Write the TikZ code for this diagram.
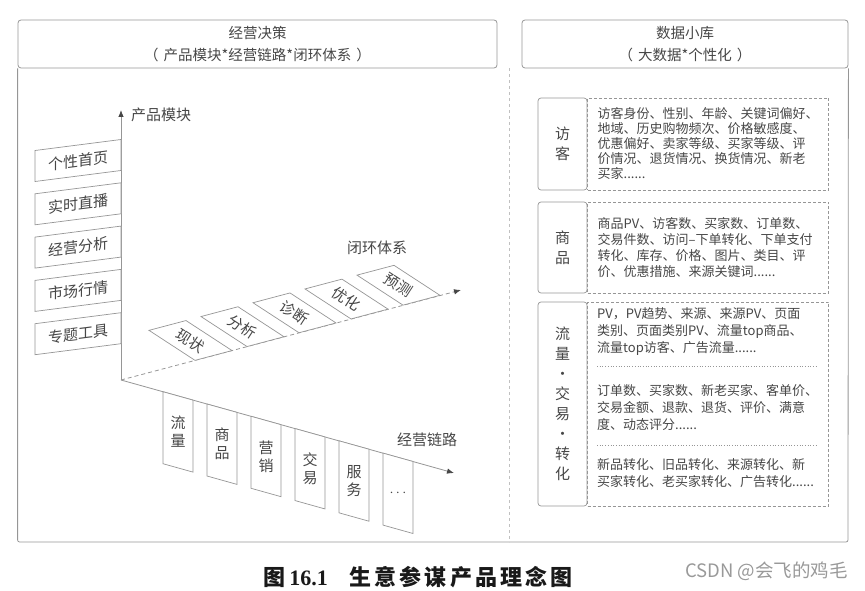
\documentclass[tikz,border=0pt]{standalone}
\usepackage{fontspec}
\setmainfont{Noto Sans CJK SC}
\newfontfamily\capnum{Liberation Serif}
\newfontfamily\capfont[LetterSpace=14]{Noto Sans CJK SC}
\usetikzlibrary{arrows.meta, positioning, calc}
\definecolor{framegray}{RGB}{150,150,150}
\definecolor{inkgray}{RGB}{70,70,70}

\begin{document}
\begin{tikzpicture}[x=1pt, y=-1pt,
        frame/.style={draw=framegray, line width=0.8pt},
        head/.style={frame, rounded corners=3pt, minimum height=48pt,
                     align=center, text=inkgray, font=\fontsize{14.5}{22}\selectfont},
        modbox/.style={draw=framegray, line width=0.7pt, fill=white,
                       minimum width=86pt, minimum height=31pt, inner sep=0pt,
                       text=inkgray, font=\fontsize{15}{15}\selectfont, yslant=0.128},
        slab/.style={draw=framegray, line width=0.7pt, fill=white},
        looptext/.style={text=inkgray, inner sep=0pt, rotate=-33,
                         font=\fontsize{15}{15}\selectfont},
        chaintext/.style={text=inkgray, inner sep=0pt, align=center,
                          font=\fontsize{15}{18}\selectfont},
        lbl/.style={text=inkgray, inner sep=0pt, font=\fontsize{15}{15}\selectfont},
        axis/.style={draw=framegray, line width=0.8pt,
                     -{Latex[length=7pt, width=5.5pt, color=inkgray]}},
        tagbox/.style={draw=framegray, line width=0.7pt, rounded corners=3pt,
                       minimum width=49pt, inner sep=0pt, align=center,
                       text=inkgray, font=\fontsize{15}{20}\selectfont},
        infobox/.style={draw=framegray, line width=0.7pt, dash pattern=on 3pt off 2pt,
                        text width=221pt, inner xsep=10pt, inner ysep=0pt, align=left,
                        text=inkgray, font=\fontsize{13}{15}\selectfont},
        infotext/.style={inner sep=0pt, align=left, text=inkgray,
                         font=\fontsize{13}{17}\selectfont},
        divider/.style={draw=framegray, line width=0.7pt, dotted}
      ]
        \useasboundingbox (0,0) rectangle (865,591);

        % headers and frame
        \node[head, minimum width=479pt] (plan) at (257.5,44)
          {经营决策\\（\hspace{5pt}产品模块*经营链路*闭环体系\hspace{5pt}）};
        \node[head, minimum width=326pt] (data) at (685,44)
          {数据小库\\（\hspace{5pt}大数据*个性化\hspace{5pt}）};
        \coordinate (corner) at (848,542);
        \draw[frame, rounded corners=2pt] (plan.south west) |- (corner) -- (data.south east);
        \draw[draw=framegray!60, line width=0.6pt, dashed]
          ($(plan.south east)!0.5!(data.south west)$) -- ++(0,474);

        % axes
        \coordinate (O) at (121,380);
        \coordinate (ytip) at (121,110);
        \coordinate (looptip) at (461,290);
        \coordinate (chaintip) at (454,473);
        \draw[axis] (O) -- (ytip);
        \draw[axis, dash pattern=on 4pt off 3pt] (O) -- (looptip);
        \draw[axis] (O) -- (chaintip);
        \node[lbl, anchor=west, right=10pt of ytip, yshift=-5pt] (ylab) {产品模块};
        \node[lbl] (looplab) at (377,248) {闭环体系};
        \node[lbl] (chainlab) at (427,440) {经营链路};

        % product modules
        \foreach \name [count=\i from 0] in {个性首页, 实时直播, 经营分析, 市场行情, 专题工具}
          \node[modbox] (mod\i) at (78,160.5+43.3*\i) {\name};

        % closed loop
        \foreach \name [count=\i from 0] in {现状, 分析, 诊断, 优化, 预测} {
          \pgfmathsetmacro\px{195+52*\i}
          \pgfmathsetmacro\py{380-0.2655*(74+52*\i)}
          \draw[slab] (\px,\py) -- ++(37,-9.8) -- ++(-46,-30) -- ++(-37,9.8) -- cycle;
          \node[looptext] (loop\i) at (\px-4.5,\py-19.9) {\name};
        }

        % business chain
        \foreach \name [count=\i from 0] in {流\\量, 商\\品, 营\\销, 交\\易, 服\\务, $\cdots$} {
          \pgfmathsetmacro\cx{163+44*\i}
          \pgfmathsetmacro\cy{380+0.279*(42+44*\i)}
          \draw[slab] (\cx,\cy) -- ++(30,8.4) -- ++(0,72) -- ++(-30,-8.4) -- cycle;
          \node[chaintext] (chain\i) at (\cx+15,\cy+40.2) {\name};
        }

        % data library
        \node[tagbox, minimum height=92pt] (visitor) at (562.5,144) {访\\客};
        \node[infobox, minimum height=92pt, right=0pt of visitor] (visitorinfo)
          {访客身份、性别、年龄、关键词偏好、\\地域、历史购物频次、价格敏感度、\\
           优惠偏好、卖家等级、买家等级、评\\价情况、退货情况、换货情况、新老\\买家......};
        \node[tagbox, minimum height=91pt] (goods) at (562.5,247.5) {商\\品};
        \node[infobox, minimum height=91pt, right=0pt of goods,
              font=\fontsize{13}{16}\selectfont] (goodsinfo)
          {商品PV、访客数、买家数、订单数、\\交易件数、访问–下单转化、下单支付\\
           转化、库存、价格、图片、类目、评\\价、优惠措施、来源关键词......};
        \node[tagbox, minimum height=204pt] (flow) at (562.5,404)
          {流\\量\\·\\交\\易\\·\\转\\化};
        \node[infobox, minimum height=204pt, right=0pt of flow] (flowinfo) {};
        \node[infotext, anchor=west] (flowA) at (597,332)
          {PV，PV趋势、来源、来源PV、页面\\类别、页面类别PV、流量top商品、\\流量top访客、广告流量......};
        \node[infotext, anchor=west] (flowB) at (597,407.5)
          {订单数、买家数、新老买家、客单价、\\交易金额、退款、退货、评价、满意\\度、动态评分......};
        \node[infotext, anchor=west] (flowC) at (597,473.5)
          {新品转化、旧品转化、来源转化、新\\买家转化、老买家转化、广告转化......};
        \draw[divider] (597,366) -- (818,366);
        \draw[divider] (597,445) -- (818,445);

        % caption
        \node[text=black!90, inner sep=0pt] (caption) at (418,577)
          {\fontsize{22}{22}\selectfont\bfseries 图\,{\capnum 16.1}\hspace{22pt}{\capfont\bfseries 生意参谋产品理念图}};
        \node[text=black!40, inner sep=0pt, anchor=east] (mark) at (848,571)
          {\fontsize{18.5}{18.5}\selectfont CSDN @会飞的鸡毛};
      \end{tikzpicture}
\end{document}
